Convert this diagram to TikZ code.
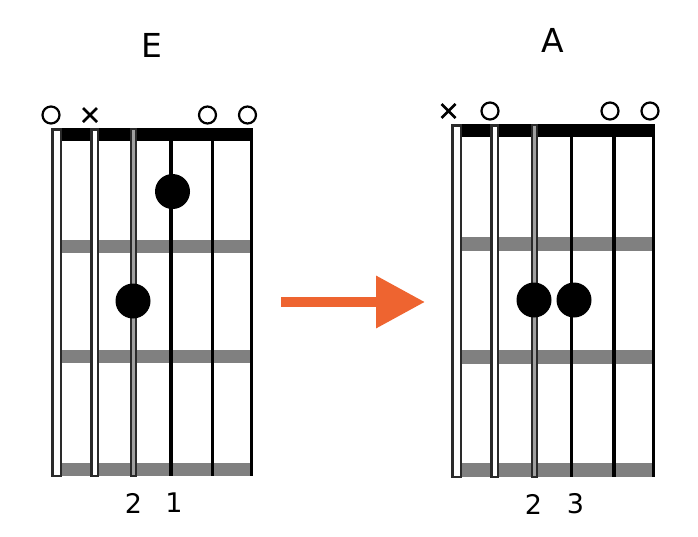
\documentclass[tikz,border=0pt]{standalone}
\usepackage{fontspec}
\setmainfont{DejaVu Sans}
\usetikzlibrary{arrows.meta}
\definecolor{fretgray}{HTML}{808080}
\definecolor{arroworange}{HTML}{EE6430}
\definecolor{strgray}{HTML}{2A2A2A}
\definecolor{midgray}{HTML}{A0A0A0}
\tikzset{
  nutbar/.style={fill=black},
  fretbar/.style={fill=fretgray},
  wound/.style={draw=strgray, fill=white, line width=2.5pt},
  thinwound/.style={draw=strgray, fill=midgray, line width=2pt},
  plain/.style={draw=black, line width=3.2pt},
  fingerdot/.style={fill=black},
  openmark/.style={draw=black, line width=2.2pt},
  mutemark/.style={draw=black, line width=2.8pt},
  title/.style={font=\fontsize{33}{33}\selectfont, inner sep=0pt},
  fingernum/.style={font=\fontsize{27}{27}\selectfont, inner sep=0pt},
  bigarrow/.style={draw=arroworange, line width=10pt, -{Triangle[length=49pt,width=50pt]}}
}
\begin{document}
\begin{tikzpicture}[x=1pt,y=-1pt]
\useasboundingbox (0,0) rectangle (698,536);

% ---------- E chord ----------
\fill[nutbar] (62,128) rectangle (253,141);
\foreach \y in {240,350,463} \fill[fretbar] (62,\y) rectangle (253,\y+13);
\draw[wound] (52.25,129.25) rectangle (60.75,475.75);
\draw[wound] (91.25,129.25) rectangle (97.75,475.75);
\draw[thinwound] (131,129) rectangle (136,476);
\draw[plain] (171,128) -- (171,476);
\draw[plain] (212.5,128) -- (212.5,476);
\draw[plain] (251.5,128) -- (251.5,476);
\fill[fingerdot] (172.5,191.5) circle (17.5);
\fill[fingerdot] (133,301) circle (17.5);
\draw[openmark] (51,115) circle (8.5);
\draw[mutemark] (83,108) -- (97,122) (83,122) -- (97,108);
\draw[openmark] (207.5,115) circle (8.5);
\draw[openmark] (247.5,115) circle (8.5);
\node[title] (tE) at (152,45) {E};
\node[fingernum] (eTwo) at (133.5,503) {2};
\node[fingernum] (eOne) at (174,503) {1};

% ---------- A chord ----------
\fill[nutbar] (462,124) rectangle (655,137);
\foreach \y in {237,350,463} \fill[fretbar] (462,\y) rectangle (655,\y+13.5);
\draw[wound] (452.25,125.25) rectangle (460.75,476.75);
\draw[wound] (491.25,125.25) rectangle (497.75,476.75);
\draw[thinwound] (532,125) rectangle (536.5,477);
\draw[plain] (571.5,124) -- (571.5,477);
\draw[plain] (614,124) -- (614,477);
\draw[plain] (653.5,124) -- (653.5,477);
\fill[fingerdot] (534,300) circle (17.5);
\fill[fingerdot] (574,300) circle (17.5);
\draw[mutemark] (441.5,104) -- (455.5,118) (441.5,118) -- (455.5,104);
\draw[openmark] (490,111) circle (8.5);
\draw[openmark] (610,111) circle (8.5);
\draw[openmark] (650,111) circle (8.5);
\node[title] (tA) at (552.5,40) {A};
\node[fingernum] (aTwo) at (533.5,504) {2};
\node[fingernum] (aThree) at (575.5,504) {3};

% ---------- arrow ----------
\coordinate (arrowtail) at (281,302);
\coordinate (arrowtip) at (425,302);
\draw[bigarrow] (arrowtail) -- (arrowtip);
\end{tikzpicture}
\end{document}
